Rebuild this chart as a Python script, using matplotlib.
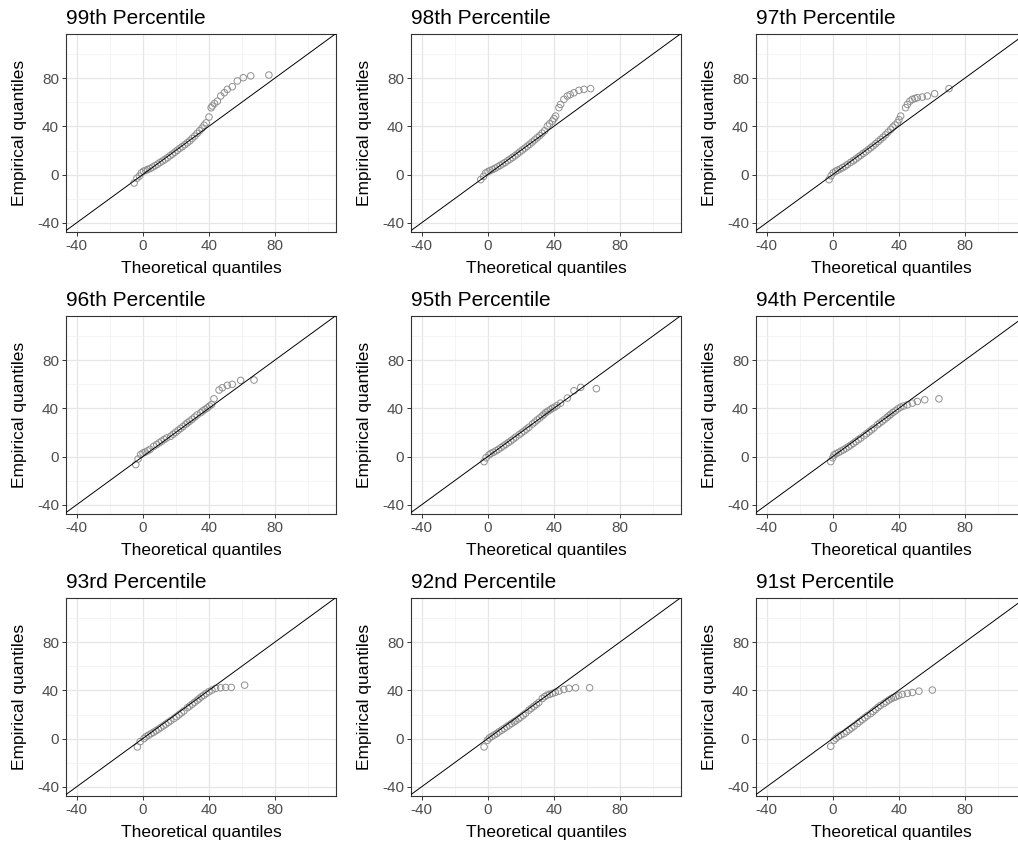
import matplotlib
matplotlib.use("Agg")
import matplotlib.pyplot as plt
from matplotlib.ticker import MultipleLocator

plt.rcParams['font.family'] = ['Liberation Sans', 'DejaVu Sans']
plt.rcParams['axes.unicode_minus'] = False

titles = ["99th Percentile", "98th Percentile", "97th Percentile",
          "96th Percentile", "95th Percentile", "94th Percentile",
          "93rd Percentile", "92nd Percentile", "91st Percentile"]

# theoretical / empirical quantiles
theo_99 = [-5.2, -3.5, -2.0, -0.8, 0.5, 1.8, 3.0, 4.5, 6.0, 7.5, 9.0, 10.5, 12.0, 13.5, 15.0,
           16.5, 18.0, 19.5, 21.0, 22.5, 24.0, 25.5, 27.0, 28.5, 30.0, 31.5, 33.0, 34.5, 36.0,
           37.2, 38.5, 40.2, 41.5, 42.2, 43.5, 45.3, 47.3, 49.5, 51.3, 54.3, 57.4, 61.0, 65.5, 76.5]
emp_99 = [-7.0, -3.0, -1.2, 1.5, 2.8, 3.5, 4.3, 5.0, 6.2, 7.4, 8.6, 10.0, 11.3, 12.6, 14.0,
          15.6, 17.0, 18.6, 20.2, 21.8, 23.2, 24.8, 26.4, 28.0, 30.0, 32.0, 34.2, 36.4, 38.6,
          41.0, 43.0, 47.8, 55.5, 57.0, 59.0, 61.0, 65.3, 68.0, 70.8, 73.0, 77.8, 80.5, 82.0, 82.7]

theo_98 = [-4.2, -2.5, -1.2, 0.2, 1.5, 3.0, 4.5, 6.0, 7.5, 9.0, 10.5, 12.0, 13.5, 15.0, 16.5,
           18.0, 19.5, 21.0, 22.5, 24.0, 25.5, 27.0, 28.5, 30.0, 31.5, 33.0, 34.5, 36.2, 37.5,
           39.2, 40.2, 41.2, 43.2, 44.2, 46.2, 48.3, 50.0, 52.3, 55.3, 58.4, 62.4]
emp_98 = [-4.2, -1.5, 1.4, 2.5, 3.3, 4.2, 5.2, 6.4, 7.6, 8.8, 10.0, 11.4, 12.8, 14.2, 15.6,
          17.2, 18.8, 20.4, 22.0, 23.6, 25.2, 27.0, 28.8, 30.6, 32.4, 34.4, 36.4, 40.3, 42.2,
          44.4, 46.5, 48.6, 55.6, 58.3, 62.5, 65.3, 66.5, 68.0, 70.0, 70.8, 71.4]

theo_97 = [-2.2, -1.0, 0.3, 1.8, 3.0, 4.5, 6.0, 7.5, 9.0, 10.9, 12.5, 14.0, 15.5, 17.0, 18.5,
           20.0, 21.5, 23.0, 24.5, 26.0, 27.5, 29.0, 30.5, 32.0, 33.5, 35.2, 36.5, 37.8, 39.2,
           40.2, 41.2, 44.2, 45.3, 46.8, 48.3, 49.8, 51.3, 54.3, 57.4, 61.8, 70.5]
emp_97 = [-4.2, -1.0, 1.5, 2.8, 3.6, 4.6, 5.8, 7.0, 8.4, 10.2, 11.6, 13.0, 14.6, 16.0, 17.6,
          19.0, 20.6, 22.2, 23.8, 25.6, 27.4, 29.2, 31.0, 33.0, 35.2, 37.5, 39.5, 41.2, 43.0,
          45.6, 48.6, 55.6, 58.3, 61.0, 62.5, 63.2, 63.9, 64.4, 65.3, 67.2, 71.4]

theo_96 = [-4.2, -2.8, -1.2, 0.2, 1.5, 3.0, 4.5, 6.8, 8.5, 10.0, 11.5, 13.0, 14.5, 17.0, 18.5,
           20.0, 21.5, 23.0, 24.5, 26.0, 27.1, 28.5, 30.0, 31.5, 33.0, 35.2, 36.5, 37.8, 39.2,
           40.5, 41.8, 43.2, 46.3, 48.3, 51.3, 54.3, 59.4, 67.5]
emp_96 = [-6.7, -2.0, 1.7, 3.0, 3.8, 4.8, 6.0, 8.6, 10.0, 11.4, 12.8, 14.2, 15.5, 16.9, 18.6,
          20.2, 21.8, 23.4, 25.0, 26.8, 28.0, 29.4, 31.0, 32.8, 34.6, 36.5, 38.0, 39.2, 40.5,
          42.0, 43.3, 48.0, 55.3, 57.2, 59.2, 60.0, 63.3, 63.6]

theo_95 = [-2.2, -1.0, 0.8, 2.0, 3.5, 5.0, 6.5, 8.0, 9.5, 11.0, 12.5, 14.0, 15.5, 17.0, 19.0,
           20.5, 22.0, 23.5, 25.0, 27.1, 28.5, 30.0, 31.5, 33.0, 34.2, 35.2, 36.5, 38.0, 39.2,
           40.5, 42.0, 44.2, 48.3, 52.3, 56.4, 65.9]
emp_95 = [-4.2, -1.0, 1.4, 2.6, 3.6, 4.8, 6.0, 7.4, 8.8, 10.2, 11.6, 13.0, 14.6, 16.2, 18.1,
          19.6, 21.2, 22.8, 24.4, 27.0, 28.6, 30.4, 32.0, 33.8, 35.2, 36.5, 37.8, 39.0, 40.2,
          41.0, 42.4, 44.4, 48.6, 54.7, 57.5, 56.4]

theo_94 = [-1.2, 0.0, 0.8, 2.0, 3.5, 5.0, 6.5, 8.0, 9.5, 11.0, 12.5, 14.0, 15.5, 17.0, 19.0,
           20.5, 22.0, 23.5, 25.0, 27.1, 28.5, 30.0, 31.5, 33.0, 34.2, 35.2, 36.5, 38.0, 39.5,
           41.2, 43.0, 45.3, 48.3, 51.3, 55.8, 64.4]
emp_94 = [-4.2, -1.0, 1.4, 2.4, 3.4, 4.6, 5.6, 6.9, 8.2, 9.6, 11.0, 12.4, 14.0, 15.4, 17.4,
          19.0, 20.6, 22.2, 23.8, 26.4, 27.8, 29.4, 31.0, 32.6, 34.0, 35.2, 36.6, 38.0, 39.6,
          41.1, 42.0, 43.0, 44.4, 45.8, 47.2, 48.0]

theo_93 = [-3.2, -1.5, 0.8, 2.0, 3.5, 5.0, 6.5, 8.0, 9.5, 11.0, 12.5, 14.0, 15.5, 17.0, 19.0,
           20.5, 22.0, 23.5, 25.0, 27.1, 28.5, 30.0, 31.5, 33.0, 34.1, 35.5, 37.0, 38.5, 40.2,
           42.0, 44.2, 47.3, 50.3, 53.7, 61.8]
emp_93 = [-6.9, -2.5, 0.0, 1.6, 2.8, 4.0, 5.2, 6.5, 7.8, 9.2, 10.6, 12.0, 13.4, 14.9, 16.7,
          18.2, 19.8, 21.4, 23.0, 25.6, 27.0, 28.6, 30.2, 31.8, 33.0, 34.7, 36.0, 37.5, 39.0,
          40.3, 41.7, 42.2, 42.5, 42.5, 44.4]

theo_92 = [-2.2, -0.2, 1.0, 2.5, 4.0, 5.5, 6.8, 8.5, 10.0, 11.5, 13.0, 14.5, 16.0, 17.0, 18.5,
           20.0, 21.5, 23.0, 25.0, 26.5, 28.0, 29.5, 31.0, 33.1, 34.5, 36.0, 37.5, 39.2, 41.0,
           43.2, 46.2, 49.3, 53.3, 61.8]
emp_92 = [-6.9, -1.4, 0.5, 1.8, 3.0, 4.2, 5.6, 7.0, 8.4, 9.8, 11.2, 12.6, 13.9, 14.8, 16.3,
          17.8, 19.4, 21.0, 23.6, 25.2, 26.8, 28.4, 30.0, 33.3, 34.8, 36.0, 36.8, 37.5, 38.4,
          39.4, 40.8, 41.7, 42.2, 42.2]

theo_91 = [-1.2, 0.8, 2.0, 3.5, 5.0, 6.9, 8.5, 10.0, 11.5, 13.0, 15.0, 16.5, 18.0, 19.5, 21.0,
           23.0, 24.5, 26.0, 27.5, 29.0, 31.1, 32.5, 34.0, 35.5, 36.8, 38.2, 40.0, 42.2, 45.3,
           48.3, 52.3, 60.4]
emp_91 = [-6.4, -1.4, 0.2, 1.8, 3.0, 4.2, 5.8, 7.4, 8.8, 10.4, 12.5, 14.2, 15.8, 17.4, 19.0,
          20.8, 22.6, 24.2, 26.0, 27.6, 29.2, 30.6, 32.0, 33.2, 34.0, 34.7, 35.8, 36.7, 37.5,
          38.3, 39.4, 40.3]

theo_all = [theo_99, theo_98, theo_97, theo_96, theo_95, theo_94, theo_93, theo_92, theo_91]
emp_all = [emp_99, emp_98, emp_97, emp_96, emp_95, emp_94, emp_93, emp_92, emp_91]

W, H = 1018, 842
fig = plt.figure(figsize=(W / 100, H / 100), dpi=100)

col_left = [66, 411, 756]
row_top = [34, 316, 598]
aw, ah = 270, 198

for i in range(9):
    r, c = divmod(i, 3)
    x0 = col_left[c]
    y0 = row_top[r]
    ax = fig.add_axes([x0 / W, 1 - (y0 + ah) / H, aw / W, ah / H])
    ax.set_xlim(-46.5, 117.2)
    ax.set_ylim(-47.7, 116.8)
    ax.xaxis.set_major_locator(MultipleLocator(40))
    ax.yaxis.set_major_locator(MultipleLocator(40))
    ax.xaxis.set_minor_locator(MultipleLocator(20))
    ax.yaxis.set_minor_locator(MultipleLocator(20))
    ax.grid(which='major', color='#e6e6e6', lw=0.9)
    ax.grid(which='minor', color='#f0f0f0', lw=0.5)
    ax.set_axisbelow(True)
    ax.tick_params(which='minor', length=0)
    ax.tick_params(which='major', length=3, width=0.7, color='#333333',
                   labelcolor='#4d4d4d', labelsize=11, pad=2)
    for s in ax.spines.values():
        s.set_color('#333333')
        s.set_linewidth(0.8)

    ax.scatter(theo_all[i], emp_all[i], s=22, facecolors='none',
               edgecolors='#8f8f8f', linewidths=0.7, zorder=3)
    ax.axline((0, 0), slope=1, color='black', lw=0.7, zorder=4)

    ax.set_title(titles[i], loc='left', fontsize=15, pad=7)
    ax.set_xlabel("Theoretical quantiles", fontsize=12.5, labelpad=6)
    ax.set_ylabel("Empirical quantiles", fontsize=12.5, labelpad=7)

fig.savefig("out.png", dpi=100)
